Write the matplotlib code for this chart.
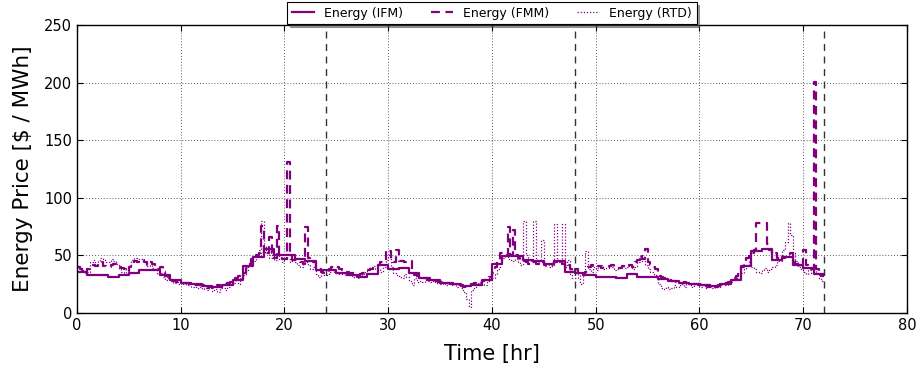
import numpy as np
import matplotlib
matplotlib.use("Agg")
import matplotlib.pyplot as plt

# Hourly integrated forward market (IFM) energy price, $/MWh, hours 0..71
ifm_price = [
    36, 33, 33, 31, 33, 35, 37.5, 37.5, 33, 28.5, 26, 25,
    23.5, 22.5, 24, 28.5, 41, 49, 56, 50.5, 50.5, 47, 45, 37.5,
    37, 34.5, 33, 31.5, 34, 41.5, 38, 39.5, 34.5, 30, 28.5, 26.5,
    25, 23.5, 24.5, 28.5, 43, 49.5, 49.5, 46, 45, 43, 45, 36,
    34.5, 33, 31, 31, 30, 33.5, 31.5, 31.5, 29.5, 28, 26.5, 25.2,
    24.3, 23.5, 25, 28.5, 41, 54, 55.5, 46, 48.5, 41.5, 39.5, 34,
]

# Fifteen-minute market (FMM) price, four intervals per hour
fmm_price = [
    [40, 38, 36, 35], [38, 40, 42, 41], [42, 44, 41, 40], [40, 42, 43, 41],
    [40, 39, 38, 36], [40, 42, 45, 44], [45, 46, 44, 42], [44, 43, 41, 38],
    [40, 36, 32, 30], [29, 28, 27, 27], [27, 26, 26, 25], [25, 24, 24, 24],
    [24, 23, 22, 23], [22, 23, 24, 23], [24, 25, 26, 27], [27, 30, 32, 34],
    [35, 39, 43, 47], [48, 50, 52, 76], [50, 52, 66, 52], [48, 76, 50, 47],
    [47, 131, 50, 46], [46, 45, 44, 43], [75, 48, 46, 44], [40, 38, 36, 35],
    [36, 38, 40, 39], [40, 38, 37, 36], [36, 35, 35, 34], [33, 34, 35, 36],
    [37, 38, 39, 40], [42, 44, 46, 55], [54, 46, 44, 55], [45, 45, 44, 45],
    [45, 35, 33, 32], [31, 30, 30, 29], [29, 28, 28, 27], [27, 27, 26, 26],
    [26, 25, 25, 24], [24, 23, 23, 24], [25, 26, 25, 26], [28, 29, 30, 31],
    [35, 40, 46, 52], [52, 50, 75, 50], [72, 50, 48, 46], [45, 44, 43, 44],
    [44, 43, 45, 44], [42, 43, 42, 43], [44, 45, 44, 43], [40, 42, 38, 36],
    [38, 36, 34, 33], [36, 40, 42, 41], [40, 41, 39, 40], [40, 41, 42, 40],
    [40, 39, 41, 42], [41, 42, 40, 44], [46, 50, 47, 56], [44, 42, 40, 38],
    [32, 31, 30, 30], [29, 28, 28, 27], [27, 26, 27, 26], [26, 25, 25, 25],
    [25, 24, 24, 23], [24, 24, 23, 24], [25, 26, 26, 27], [28, 30, 32, 34],
    [40, 45, 48, 50], [52, 55, 78, 78], [78, 78, 60, 55], [50, 52, 48, 45],
    [48, 49, 50, 52], [45, 43, 42, 40], [55, 42, 40, 38], [201, 38, 35, 32],
]

# Real-time dispatch (RTD) price, sampled every fifteen minutes
rtd_price = [
    [41, 39, 37, 36], [36, 44, 46, 42], [45, 48, 46, 44], [44, 47, 45, 43],
    [38, 36, 35, 38], [42, 46, 48, 47], [47, 46, 44, 41], [42, 39, 37, 34],
    [35, 31, 29, 30], [28, 26, 27, 25], [26, 25, 24, 25], [23, 24, 22, 23],
    [21, 22, 20, 22], [19, 21, 18, 22], [22, 20, 23, 25], [26, 29, 25, 30],
    [33, 37, 42, 45], [45, 50, 55, 80], [53, 58, 48, 50], [46, 52, 47, 44],
    [48, 47, 44, 46], [44, 42, 40, 43], [44, 42, 38, 40], [34, 31, 36, 33],
    [33, 36, 38, 35], [36, 34, 35, 33], [34, 33, 31, 33], [30, 32, 34, 36],
    [38, 40, 41, 38], [38, 36, 40, 46], [50, 40, 35, 33], [32, 30, 34, 31],
    [28, 24, 30, 27], [28, 27, 29, 28], [27, 28, 26, 27], [25, 26, 24, 26],
    [24, 25, 23, 24], [22, 18, 12, 5], [20, 22, 26, 24], [25, 24, 28, 30],
    [30, 34, 38, 44], [48, 50, 47, 46], [45, 47, 44, 42], [80, 50, 46, 44],
    [80, 46, 45, 63], [41, 43, 40, 42], [77, 46, 44, 77], [40, 46, 34, 30],
    [30, 35, 25, 33], [54, 38, 36, 40], [37, 40, 42, 38], [39, 41, 40, 37],
    [38, 40, 41, 39], [40, 42, 38, 41], [44, 50, 45, 42], [38, 36, 34, 33],
    [25, 22, 21, 23], [21, 22, 24, 23], [24, 25, 23, 25], [24, 23, 25, 24],
    [23, 24, 22, 24], [23, 22, 24, 23], [24, 25, 24, 26], [27, 29, 30, 33],
    [35, 38, 42, 45], [40, 38, 36, 35], [37, 39, 36, 38], [40, 42, 45, 48],
    [55, 62, 78, 68], [52, 45, 40, 38], [36, 34, 37, 35], [40, 35, 30, 28],
]

day_boundaries = [24, 48, 72]

purple = "#800080"


def step_series(values, per_hour):
    vals = np.asarray(values, dtype=float).ravel()
    t = np.arange(len(vals) + 1) / per_hour
    return t, np.append(vals, vals[-1])


fig = plt.figure(figsize=(9.17, 3.70), dpi=100)
ax = fig.add_axes([0.084, 0.154, 0.905, 0.778])

t, y = step_series(ifm_price, 1)
ax.step(t, y, where="post", color=purple, lw=1.6, label="Energy (IFM)")
t, y = step_series(fmm_price, 4)
ax.step(t, y, where="post", color=purple, lw=1.6, linestyle=(0, (4, 2.5)),
        label="Energy (FMM)")
t, y = step_series(rtd_price, 4)
ax.step(t, y, where="post", color=purple, lw=0.9, linestyle=(0, (1, 1.5)),
        label="Energy (RTD)")

for d in day_boundaries:
    ax.axvline(d, color="#333333", lw=1.0, linestyle=(0, (5, 4)))

ax.set_xlim(0, 80)
ax.set_ylim(0, 250)
ax.set_xticks(np.arange(0, 81, 10))
ax.set_yticks(np.arange(0, 251, 50))
ax.grid(True, color="#222222", linestyle=(0, (1, 2.5)), lw=0.6)
ax.tick_params(direction="in", top=True, right=True, length=4, labelsize=10.5)
for s in ax.spines.values():
    s.set_linewidth(1.0)

ax.set_xlabel("Time [hr]", fontsize=15, labelpad=8)
ax.set_ylabel("Energy Price [$ / MWh]", fontsize=15.5, labelpad=8)

leg = ax.legend(loc="upper center", bbox_to_anchor=(0.5, 1.08), ncol=3,
                fontsize=9, frameon=True, shadow=True, fancybox=False,
                handlelength=1.8, columnspacing=2.2, borderaxespad=0,
                borderpad=0.35)
leg.get_frame().set_edgecolor("k")
leg.get_frame().set_linewidth(0.8)

fig.savefig("out.png", dpi=100)
